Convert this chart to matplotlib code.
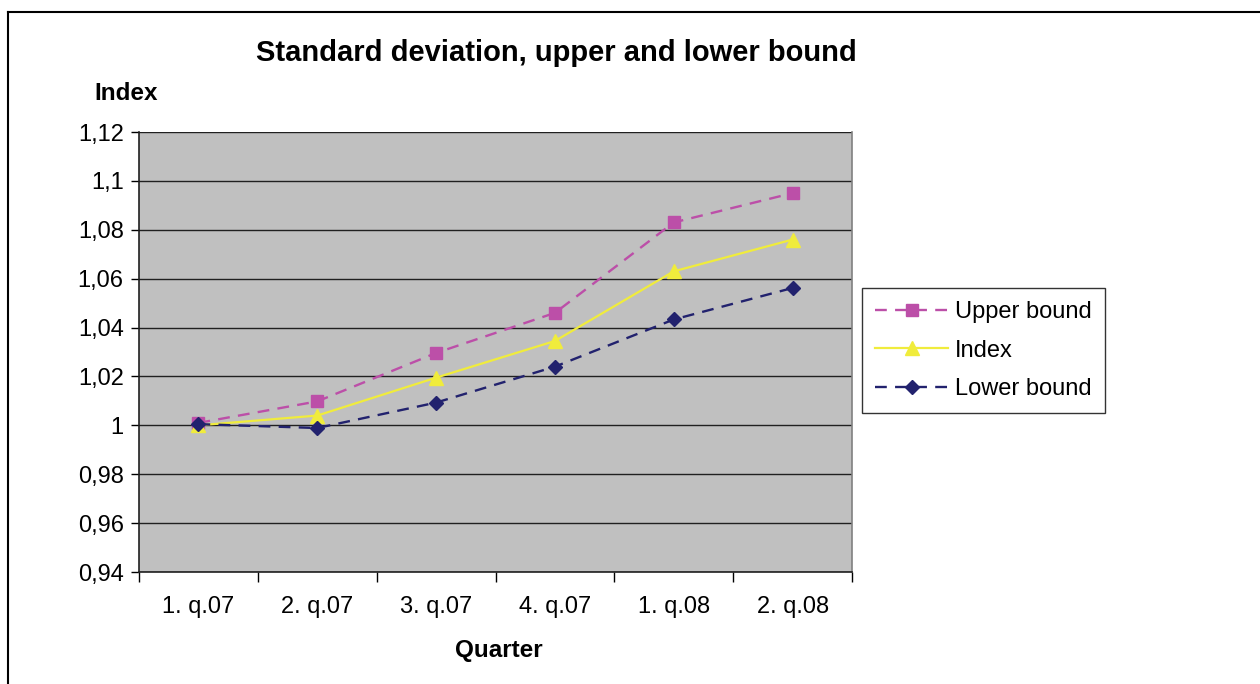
import matplotlib
matplotlib.use("Agg")
import matplotlib.pyplot as plt
from matplotlib.ticker import FuncFormatter, FixedLocator
from matplotlib.lines import Line2D

plt.rcParams['font.family'] = ['Liberation Sans', 'DejaVu Sans']

quarters = ["1. q.07", "2. q.07", "3. q.07", "4. q.07", "1. q.08", "2. q.08"]
upper_bound = [1.001, 1.0098, 1.0296, 1.046, 1.083, 1.095]
index_vals = [1.000, 1.004, 1.0195, 1.0345, 1.063, 1.076]
lower_bound = [1.0005, 0.9989, 1.0093, 1.024, 1.0433, 1.0562]
y_ticks = [0.94, 0.96, 0.98, 1.00, 1.02, 1.04, 1.06, 1.08, 1.10, 1.12]

fig = plt.figure(figsize=(12.6, 6.84), dpi=100)
ax = fig.add_axes([139/1260, 1-572/684, 713/1260, 440/684])
ax.set_facecolor('#C0C0C0')

x = list(range(len(quarters)))
ax.plot(x, upper_bound, color='#BC4FA8', lw=1.7, ls=(0, (5, 3.5)), marker='s', ms=8.5,
        label='Upper bound', zorder=3)
ax.plot(x, index_vals, color='#F0EC3C', lw=1.6, ls='-', marker='^', ms=10,
        label='Index', zorder=3)
ax.plot(x, lower_bound, color='#22226E', lw=1.7, ls=(0, (5, 3.5)), marker='D', ms=7.5,
        label='Lower bound', zorder=4)

ax.set_xlim(-0.5, len(quarters) - 0.5)
ax.set_ylim(0.94, 1.12)
ax.yaxis.set_major_locator(FixedLocator(y_ticks))
ax.yaxis.set_major_formatter(FuncFormatter(lambda v, p: f"{v:g}".replace('.', ',')))
for yv in y_ticks:
    ax.axhline(yv, color='#202020', lw=1.0, zorder=1)

ax.set_xticks(x)
ax.set_xticklabels(quarters)
ax.set_xticks([i - 0.5 for i in range(len(quarters) + 1)], minor=True)
ax.tick_params(axis='x', which='major', length=0, labelsize=17, pad=17)
ax.tick_params(axis='x', which='minor', length=7, width=1, color='black', direction='out')
ax.tick_params(axis='y', which='major', length=6, width=1, labelsize=17, pad=5)

for s in ['left', 'bottom']:
    ax.spines[s].set_color('#202020')
    ax.spines[s].set_linewidth(1.2)
ax.spines['right'].set_color('#808080')
ax.spines['right'].set_linewidth(1.2)
ax.spines['top'].set_visible(False)

fig.text(556/1260, 1-53/684, "Standard deviation, upper and lower bound",
         ha='center', va='center', fontsize=21, fontweight='bold')
fig.text(126/1260, 1-93/684, "Index", ha='center', va='center', fontsize=17.5, fontweight='bold')
fig.text(499/1260, 1-650/684, "Quarter", ha='center', va='center', fontsize=17.5, fontweight='bold')

leg = fig.legend(loc='upper left', bbox_to_anchor=(862/1260, 1-288/684),
                 fontsize=17, frameon=True, fancybox=False, handlelength=3.1,
                 borderpad=0.55, labelspacing=0.7, handletextpad=0.3, borderaxespad=0)
leg.get_frame().set_edgecolor('black')
leg.get_frame().set_linewidth(1.0)

# outer chart border
fig.add_artist(Line2D([8/1260, 1.0], [1-12/684, 1-12/684], transform=fig.transFigure,
                      color='black', lw=1.5))
fig.add_artist(Line2D([8/1260, 8/1260], [0, 1-12/684], transform=fig.transFigure,
                      color='black', lw=1.5))

fig.savefig("out.png", dpi=100, facecolor='white')
